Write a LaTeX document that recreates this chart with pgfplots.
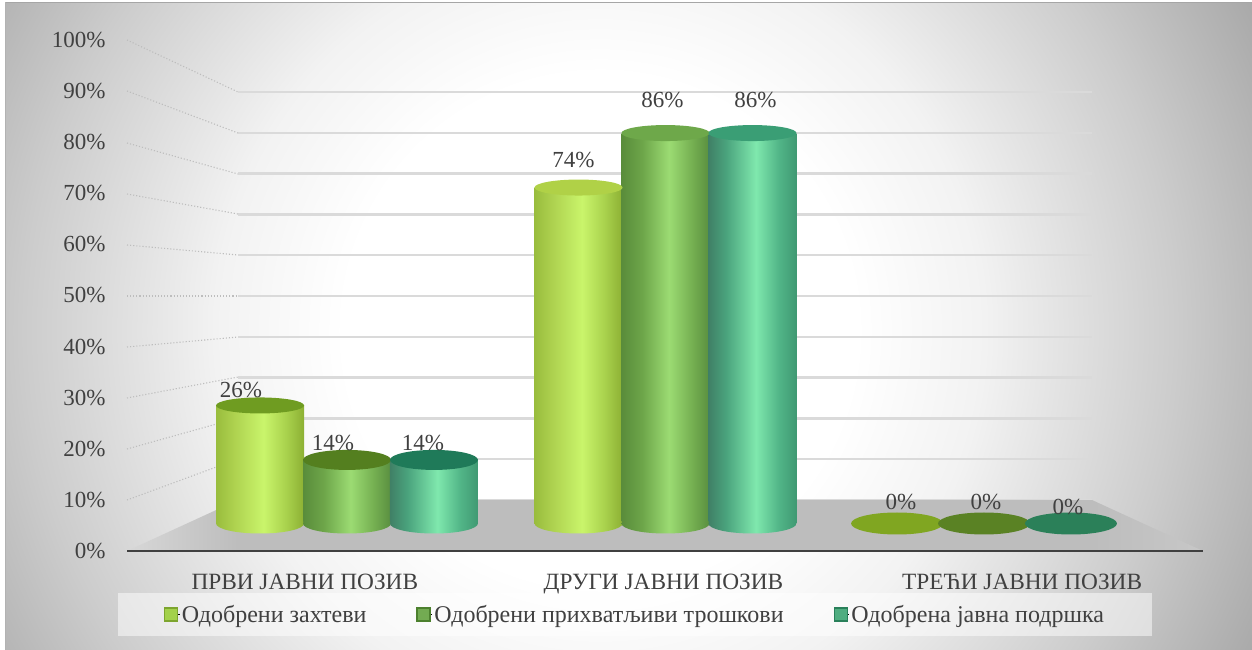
\documentclass[border=0pt]{standalone}
\usepackage{fontspec}
\setmainfont{Liberation Serif}
\usepackage{pgfplots}
\usepackage{pgfplotstable}
\pgfplotsset{compat=1.18}

\definecolor{txt}{HTML}{404040}
\definecolor{gridc}{HTML}{DADADA}
\definecolor{floorc}{HTML}{BDBDBD}
% lids: low column, high column, empty column
\definecolor{lidAlow}{HTML}{6F9C21}
\definecolor{lidAhigh}{HTML}{B0D147}
\definecolor{lidAzero}{HTML}{80A621}
\definecolor{lidBlow}{HTML}{547F1F}
\definecolor{lidBhigh}{HTML}{6EA84A}
\definecolor{lidBzero}{HTML}{5A8224}
\definecolor{lidClow}{HTML}{1F7A59}
\definecolor{lidChigh}{HTML}{3A9E75}
\definecolor{lidCzero}{HTML}{2B8059}
% legend swatches
\definecolor{lgAf}{HTML}{A3D14A}
\definecolor{lgAd}{HTML}{7DA52E}
\definecolor{lgBf}{HTML}{73AB52}
\definecolor{lgBd}{HTML}{4C802E}
\definecolor{lgCf}{HTML}{4FAD80}
\definecolor{lgCd}{HTML}{29805A}

% column bodies, dark edge - bright middle - dark edge (path fills 25bp..75bp)
\pgfdeclarehorizontalshading{bodyA}{100bp}{rgb(0bp)=(.60,.74,.24); rgb(25bp)=(.60,.74,.24); rgb(35bp)=(.68,.82,.31); rgb(52bp)=(.79,.96,.42); rgb(65bp)=(.66,.82,.30); rgb(75bp)=(.55,.69,.20); rgb(100bp)=(.55,.69,.20)}
\pgfdeclarehorizontalshading{bodyB}{100bp}{rgb(0bp)=(.35,.55,.23); rgb(25bp)=(.35,.55,.23); rgb(37bp)=(.43,.65,.29); rgb(52bp)=(.61,.86,.45); rgb(65bp)=(.46,.69,.32); rgb(75bp)=(.35,.56,.25); rgb(100bp)=(.35,.56,.25)}
\pgfdeclarehorizontalshading{bodyC}{100bp}{rgb(0bp)=(.25,.50,.40); rgb(25bp)=(.25,.50,.40); rgb(35bp)=(.29,.64,.49); rgb(52bp)=(.50,.91,.68); rgb(65bp)=(.32,.71,.53); rgb(75bp)=(.25,.60,.45); rgb(100bp)=(.25,.60,.45)}
\pgfdeclareradialshading{bgshade}{\pgfpointorigin}{rgb(0bp)=(1,1,1); rgb(8bp)=(1,1,1); rgb(12bp)=(.95,.95,.95); rgb(18bp)=(.80,.80,.80); rgb(25bp)=(.60,.60,.60); rgb(50bp)=(.60,.60,.60)}

% ellipses for the round bottoms and lids
\pgfdeclareplotmark{baseA}{\pgfpathellipse{\pgfpointorigin}{\pgfqpoint{44pt}{0pt}}{\pgfqpoint{0pt}{10pt}}\pgfshadepath{bodyA}{0}\pgfusepath{discard}}
\pgfdeclareplotmark{baseB}{\pgfpathellipse{\pgfpointorigin}{\pgfqpoint{44pt}{0pt}}{\pgfqpoint{0pt}{10pt}}\pgfshadepath{bodyB}{0}\pgfusepath{discard}}
\pgfdeclareplotmark{baseC}{\pgfpathellipse{\pgfpointorigin}{\pgfqpoint{44pt}{0pt}}{\pgfqpoint{0pt}{10pt}}\pgfshadepath{bodyC}{0}\pgfusepath{discard}}
\pgfdeclareplotmark{lidS}{\pgfpathellipse{\pgfpointorigin}{\pgfqpoint{44pt}{0pt}}{\pgfqpoint{0pt}{8pt}}\pgfusepathqfill}
\pgfdeclareplotmark{lidL}{\pgfpathellipse{\pgfpointorigin}{\pgfqpoint{44pt}{0pt}}{\pgfqpoint{0pt}{10pt}}\pgfusepathqfill}
\pgfdeclareplotmark{lidZ}{\pgfpathellipse{\pgfpointorigin}{\pgfqpoint{46pt}{0pt}}{\pgfqpoint{0pt}{11pt}}\pgfusepathqfill}

% x is the category, shifted to the column; dx, dy move the value label
\pgfplotstableread{
x y dx dy
-0.273 26 -19 15.5
0.727 74 -5 27.6
1.727 0 4 21.5
}\seriesA
\pgfplotstableread{
x y dx dy
0 14 -14 17
1 86 -3 33
2 0 2 21.5
}\seriesB
\pgfplotstableread{
x y dx dy
0.273 14 -11 17
1.273 86 3 33
2.273 0 -3 16.5
}\seriesC

\newcommand{\lblfont}{\fontsize{23}{25}\selectfont}
\newcommand{\catfont}{\fontsize{23.3}{25}\selectfont}
\newcommand{\lgfont}{\fontsize{24}{26}\selectfont}

\pgfplotsset{
  % one plot per column, so that the shading fits that column alone
  column/.style 2 args={ybar, bar shift=0pt, bar width=88pt, draw=none, shade, shading=#1,
    restrict x to domain=#2, forget plot},
  base/.style={only marks, mark=#1, forget plot},
  lid/.style 2 args={only marks, mark=#1, color=#2, forget plot},
  side/.style={dotted, black!26, line width=1.1pt, forget plot},
  vallabel/.style={only marks, mark=none, forget plot,
    /pgf/number format/assume math mode=true,
    nodes near coords={\pgfmathprintnumber{\pgfplotspointmeta}\%},
    visualization depends on={\thisrow{dx}\as\dx},
    visualization depends on={\thisrow{dy}\as\dy},
    every node near coord/.append style={anchor=center, xshift=\dx pt, yshift=\dy pt,
      font=\lblfont, text=txt}},
  swatch/.style 2 args={legend image code/.code={\path (0pt,0pt) -- (15pt,0pt); \draw[fill opacity=1, draw=#2, fill=#1, line width=1.2pt] (0pt,-6.5pt) rectangle (13pt,6.5pt);}},
}

\begin{document}
\begin{tikzpicture}
\path[use as bounding box] (0pt,0pt) rectangle (1252pt,650pt);
\fill[white] (0pt,0pt) rectangle (1252pt,650pt);
\begin{scope}
  \clip (6pt,0pt) rectangle (1252pt,647pt);
  \shade[shading=bgshade] (600pt,320pt) circle (800pt);
\end{scope}
\draw[line width=1pt, black!35] (6pt,647.5pt) -- (1252pt,647.5pt);
\draw[line width=1pt, black!30] (5.5pt,0pt) -- (5.5pt,647.5pt);

% back wall with its grid
\begin{axis}[
  at={(238pt,150pt)}, scale only axis, width=854pt, height=408pt,
  xmin=0, xmax=1, ymin=0, ymax=100,
  xtick=\empty, ytick={0,10,...,100}, yticklabels={},
  major tick length=0pt, axis line style={draw=none},
  ymajorgrids, grid style={gridc, line width=2.5pt},
]
\addplot[draw=none, forget plot] coordinates {(0,0) (1,100)};
\end{axis}

% floor and the dotted side lines, in picture pixels
\begin{axis}[
  at={(0pt,0pt)}, scale only axis, width=1252pt, height=650pt,
  xmin=0, xmax=1252, ymin=0, ymax=650, y dir=reverse, hide axis,
]
\addplot[fill=floorc, draw=none, forget plot] coordinates {(238,500) (1092,500) (1092,551) (238,551)} -- cycle;
\addplot[draw=none, forget plot, shade, left color=floorc!60!white, right color=floorc] coordinates {(127,551) (238,500) (238,551)} -- cycle;
\addplot[draw=none, forget plot, shade, left color=floorc, right color=floorc!85!white] coordinates {(1092,500) (1203,551) (1092,551)} -- cycle;
\addplot[side] coordinates {(127,500) (238,459)};
\addplot[side] coordinates {(127,449) (238,418)};
\addplot[side] coordinates {(127,398) (238,377)};
\addplot[side] coordinates {(127,347) (238,337)};
\addplot[side] coordinates {(127,296) (238,296)};
\addplot[side] coordinates {(127,245) (238,255)};
\addplot[side] coordinates {(127,194) (238,214)};
\addplot[side] coordinates {(127,143) (238,174)};
\addplot[side] coordinates {(127,91) (238,133)};
\addplot[side] coordinates {(127,40) (238,92)};
\end{axis}

% front plane: value scale, base line, category names
\begin{axis}[
  at={(127pt,99pt)}, scale only axis, width=1076pt, height=511pt,
  xmin=-0.5, xmax=2.5, ymin=0, ymax=100,
  axis x line*=bottom, axis y line*=left,
  x axis line style={line width=2.5pt, color=txt, -},
  y axis line style={draw=none},
  major tick length=0pt,
  xtick={0,1,2},
  xticklabels={ПРВИ ЈАВНИ ПОЗИВ, ДРУГИ ЈАВНИ ПОЗИВ, ТРЕЋИ ЈАВНИ ПОЗИВ},
  ytick={0,10,...,100},
  yticklabels={0\%,10\%,20\%,30\%,40\%,50\%,60\%,70\%,80\%,90\%,100\%},
  yticklabel style={xshift=-18pt, font=\lblfont, text=txt},
  xticklabel style={yshift=-20pt, xshift=-1.5pt, font=\catfont, text=txt},
]
\addplot[draw=none, forget plot] coordinates {(0,0) (2,100)};
\end{axis}

% the columns
\begin{axis}[
  at={(187.75pt,126.5pt)}, scale only axis, width=955.5pt, height=454pt,
  xmin=-0.5, xmax=2.5, ymin=0, ymax=100, clip=false,
  xtick=\empty, ytick=\empty, axis line style={draw=none},
  legend columns=3,
  legend style={at={(0.4681,-0.2004)}, anchor=center, draw=none,
    fill=white, fill opacity=0.5, text opacity=1, font=\lgfont, text=txt,
    inner xsep=46pt, inner ysep=10pt,
    /tikz/every even column/.append style={column sep=48pt}},
  legend cell align=left,
]
% series A
\addplot[base=baseA] coordinates {(-0.273,0) (0.727,0)};
\addplot[column={bodyA}{-0.5:0.5}] table[x=x, y=y] {\seriesA};
\addplot[column={bodyA}{0.5:1.5}] table[x=x, y=y] {\seriesA};
\addplot[lid={lidS}{lidAlow}] coordinates {(-0.273,26)};
\addplot[lid={lidS}{lidAhigh}] coordinates {(0.727,74)};
\addplot[lid={lidZ}{lidAzero}] coordinates {(1.727,0)};
% series B
\addplot[base=baseB] coordinates {(0,0) (1,0)};
\addplot[column={bodyB}{-0.5:0.5}] table[x=x, y=y] {\seriesB};
\addplot[column={bodyB}{0.5:1.5}] table[x=x, y=y] {\seriesB};
\addplot[lid={lidL}{lidBlow}] coordinates {(0,14)};
\addplot[lid={lidS}{lidBhigh}] coordinates {(1,86)};
\addplot[lid={lidZ}{lidBzero}] coordinates {(2,0)};
% series C
\addplot[base=baseC] coordinates {(0.273,0) (1.273,0)};
\addplot[column={bodyC}{-0.5:0.5}] table[x=x, y=y] {\seriesC};
\addplot[column={bodyC}{0.5:1.5}] table[x=x, y=y] {\seriesC};
\addplot[lid={lidL}{lidClow}] coordinates {(0.273,14)};
\addplot[lid={lidS}{lidChigh}] coordinates {(1.273,86)};
\addplot[lid={lidZ}{lidCzero}] coordinates {(2.273,0)};
% value labels
\addplot[vallabel] table[x=x, y=y] {\seriesA};
\addplot[vallabel] table[x=x, y=y] {\seriesB};
\addplot[vallabel] table[x=x, y=y] {\seriesC};
% legend entries only
\addlegendimage{swatch={lgAf}{lgAd}}
\addlegendentry{Одобрени захтеви}
\addlegendimage{swatch={lgBf}{lgBd}}
\addlegendentry{Одобрени прихватљиви трошкови}
\addlegendimage{swatch={lgCf}{lgCd}}
\addlegendentry{Одобрена јавна подршка}
\end{axis}
\end{tikzpicture}
\end{document}
